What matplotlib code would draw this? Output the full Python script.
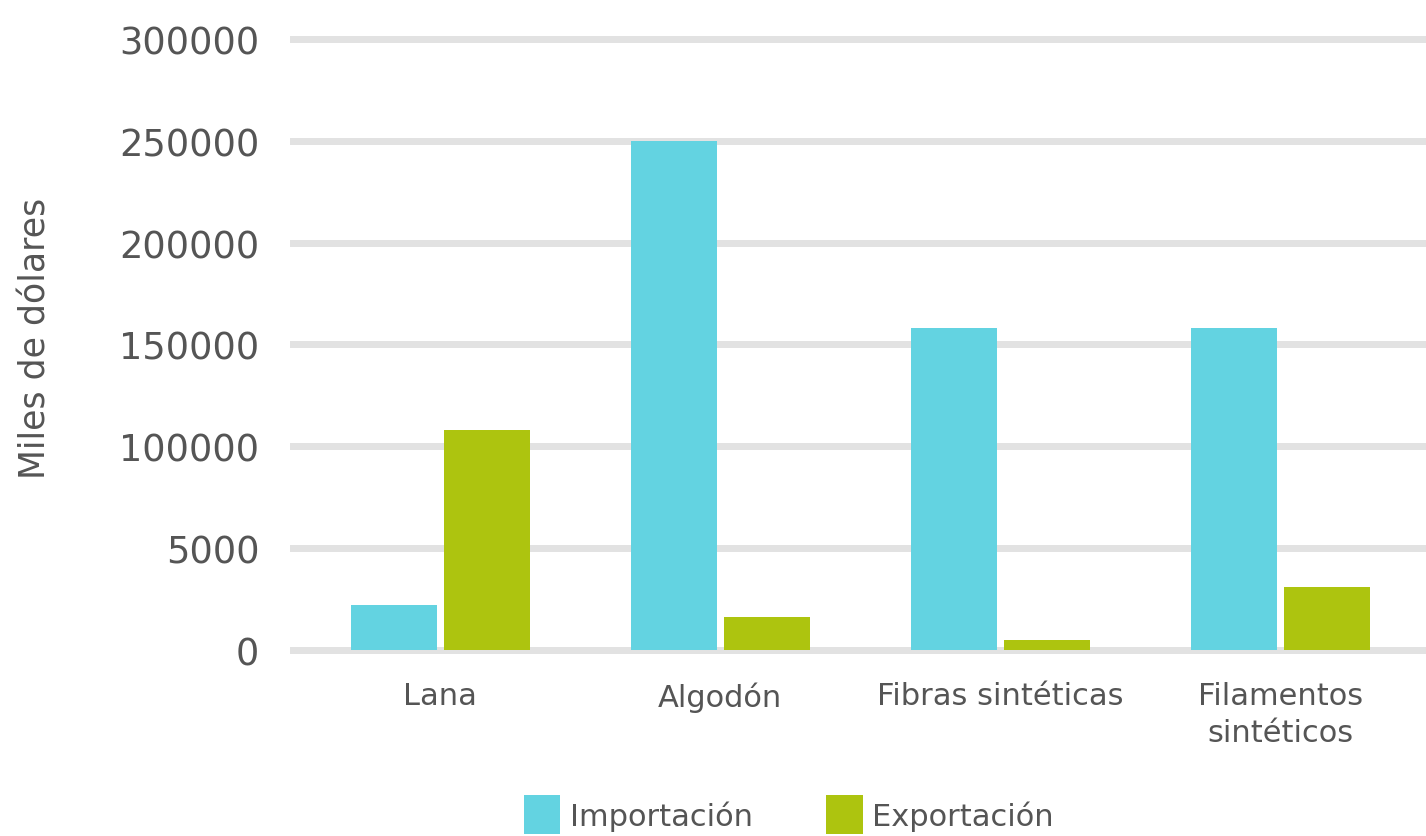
import numpy as np
import matplotlib.pyplot as plt
from matplotlib.ticker import FixedLocator, FixedFormatter

# data
categorias = ['Lana', 'Algodón', 'Fibras sintéticas', 'Filamentos\nsintéticos']
importacion = [22000, 250000, 158000, 158000]
exportacion = [108000, 16000, 5000, 31000]
y_ticks = [0, 50000, 100000, 150000, 200000, 250000, 300000]
y_labels = ['0', '5000', '100000', '150000', '200000', '250000', '300000']

col_imp = '#63d3e1'
col_exp = '#adc40f'
txt = '#555555'

plt.rcParams['font.family'] = ['DejaVu Sans']

fig = plt.figure(figsize=(14.26, 8.37), dpi=100)
ax = fig.add_axes([0.2034, 0.2115, 0.7966, 0.7646])

x = np.arange(len(categorias))
w = 0.307
ax.bar(x - 0.166, importacion, w, color=col_imp, label='Importación', zorder=3)
ax.bar(x + 0.166, exportacion, w, color=col_exp, label='Exportación', zorder=3)

ax.set_xlim(-0.536, 3.52)
ax.set_ylim(-4419, 309820)

ax.yaxis.set_major_locator(FixedLocator(y_ticks))
ax.yaxis.set_major_formatter(FixedFormatter(y_labels))
ax.grid(axis='y', color='#e2e2e2', linewidth=5, zorder=0)
ax.set_axisbelow(True)

ax.set_xticks(x)
ax.set_xticklabels(categorias, fontsize=22, color=txt, linespacing=1.35)
ax.tick_params(axis='x', length=0, pad=16)
ax.tick_params(axis='y', length=0, pad=22, labelsize=26.5, labelcolor=txt)

for s in ax.spines.values():
    s.set_visible(False)

fig.text(0.025, 0.596, 'Miles de dólares', rotation=90, fontsize=25,
         color=txt, ha='center', va='center')

fig.legend(loc='upper center', bbox_to_anchor=(0.553, 0.067),
           ncol=2, frameon=False, fontsize=22, labelcolor=txt,
           handlelength=1.2, handleheight=1.6, handletextpad=0.3,
           columnspacing=2.4, borderpad=0, bbox_transform=fig.transFigure)

fig.savefig('out.png', dpi=100)
